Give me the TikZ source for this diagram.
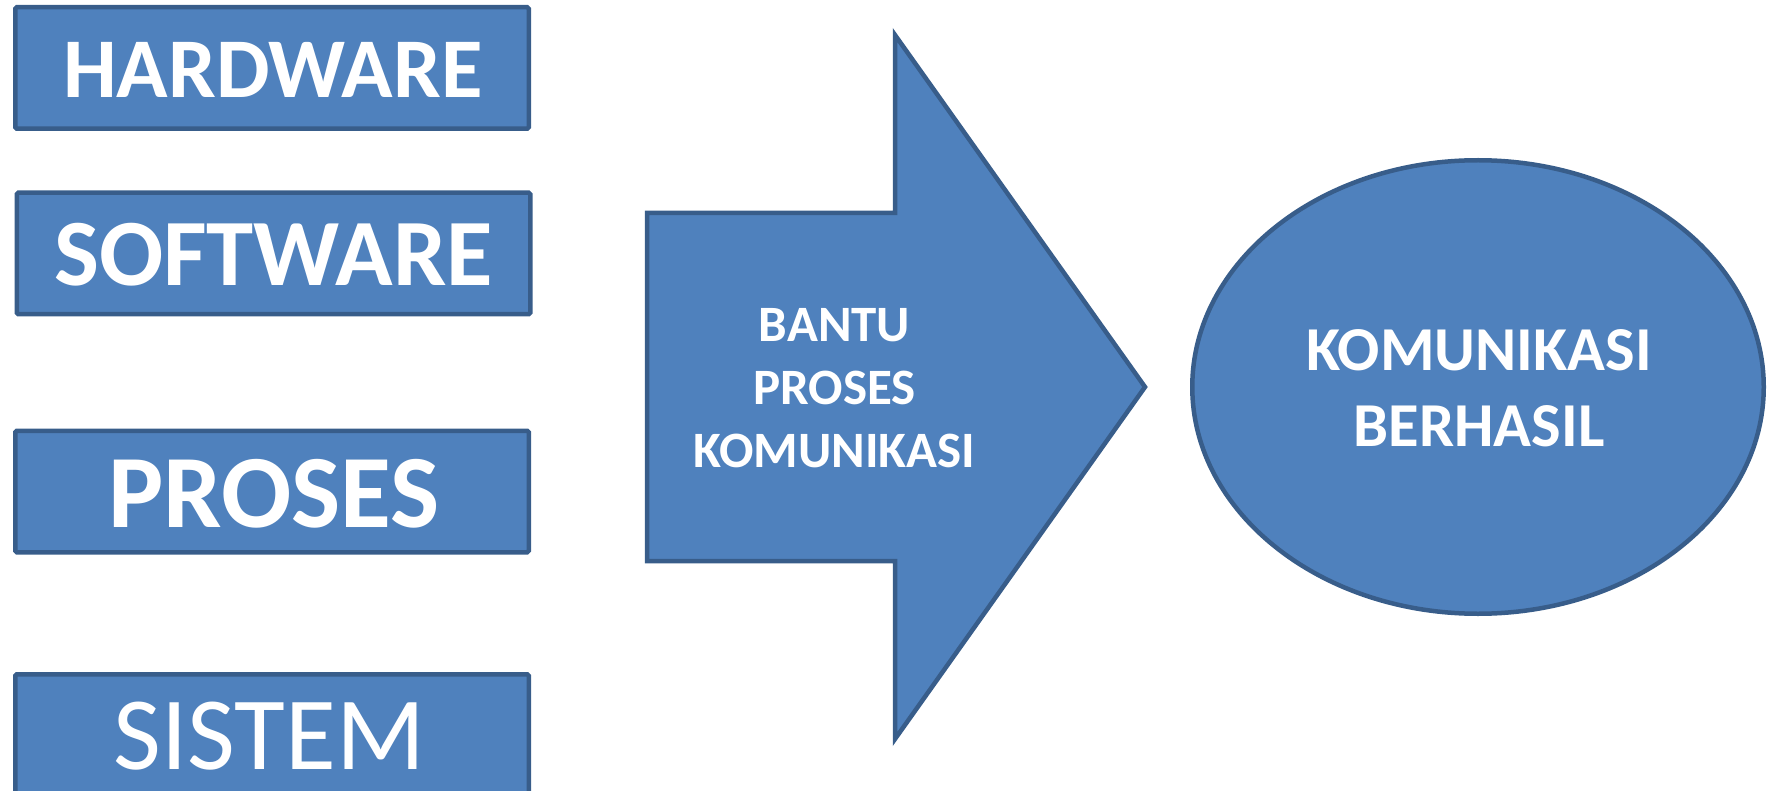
\documentclass[tikz,border=0pt]{standalone}
\usepackage{fontspec}
\setmainfont{Carlito}
\usetikzlibrary{shapes.geometric}
\definecolor{fillblue}{HTML}{4F81BD}
\definecolor{edgeblue}{HTML}{385D8A}
\begin{document}
\begin{tikzpicture}[x=1pt,y=-1pt,
  shapestyle/.style={draw=edgeblue, fill=fillblue, line width=4.5pt},
  box/.style={shapestyle, rounded corners=1.5pt, minimum width=513.5pt, minimum height=121.5pt, inner sep=0pt},
  lbl/.style={text=white, align=center, inner sep=0pt}]
\useasboundingbox (0,0) rectangle (1768,791);
\clip (0,0) rectangle (1768,791);
% left boxes
\node[box] (hw) at (272,68) {};
\node[box] (sw) at (273.5,253.5) {};
\node[box] (pr) at (272,491.5) {};
\node[box] (si) at (272,735) {};
\node[lbl, font=\bfseries\fontsize{85}{100}\selectfont] (hwt) at (273,70) {HARDWARE};
\node[lbl, font=\bfseries\fontsize{95}{110}\selectfont] (swt) at (273.5,255) {SOFTWARE};
\node[lbl, font=\bfseries\fontsize{104}{120}\selectfont] (prt) at (274,494) {PROSES};
\node[lbl, font=\fontsize{104}{120}\selectfont] (sit) at (269.5,736) {SISTEM};
% big arrow
\draw[shapestyle] (647,213) -- (895,213) -- (895,35) -- (1145,387) -- (895,739) -- (895,561) -- (647,561) -- cycle;
\node[lbl, font=\bfseries\fontsize{51}{63}\selectfont] (ar) at (834.5,388.5) {BANTU\\PROSES\\KOMUNIKASI};
% ellipse
\node[shapestyle, ellipse, minimum width=571.5pt, minimum height=453.5pt, inner sep=0pt] (el) at (1478,387) {};
\node[lbl, font=\bfseries\fontsize{62.5}{76}\selectfont] (elt) at (1479,388.3) {KOMUNIKASI\\BERHASIL};
\end{tikzpicture}
\end{document}
